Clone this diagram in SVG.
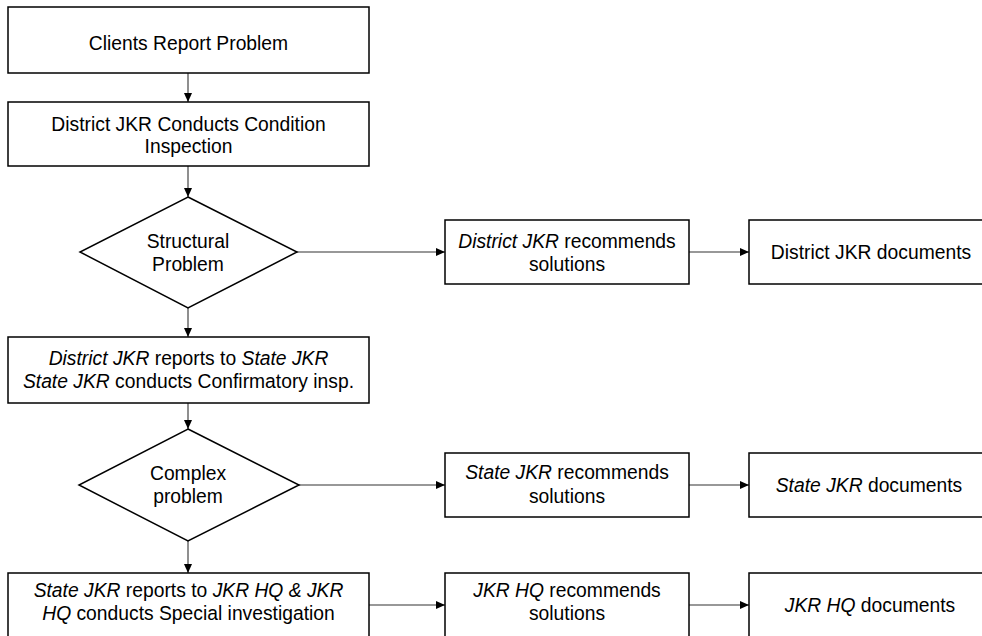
<svg xmlns="http://www.w3.org/2000/svg" width="982" height="636" viewBox="0 0 982 636">
<style>
.box{fill:#fff;stroke:#000;stroke-width:1.5}
.t{font-family:"Liberation Sans",Arial,sans-serif;font-size:19.3px;fill:#000;text-anchor:middle}
.i{font-style:italic}
.c{fill:none;stroke:#333;stroke-width:1.1}
</style>
<defs>
<marker id="ah" markerUnits="userSpaceOnUse" markerWidth="10" markerHeight="9" refX="9" refY="4" orient="auto">
<path d="M0,0 L9,4 L0,8 z" fill="#000"/>
</marker>
</defs>
<rect width="982" height="636" fill="#fff"/>
<g id="connectors">
<line class="c" x1="188" y1="73" x2="188" y2="102" marker-end="url(#ah)"/>
<line class="c" x1="188" y1="166" x2="188" y2="197" marker-end="url(#ah)"/>
<line class="c" x1="188" y1="308" x2="188" y2="337" marker-end="url(#ah)"/>
<line class="c" x1="188" y1="403" x2="188" y2="429" marker-end="url(#ah)"/>
<line class="c" x1="188" y1="541" x2="188" y2="573" marker-end="url(#ah)"/>
<line class="c" x1="297" y1="252" x2="445" y2="252" marker-end="url(#ah)"/>
<line class="c" x1="689" y1="252" x2="749" y2="252" marker-end="url(#ah)"/>
<line class="c" x1="299" y1="485" x2="445" y2="485" marker-end="url(#ah)"/>
<line class="c" x1="689" y1="485" x2="749" y2="485" marker-end="url(#ah)"/>
<line class="c" x1="369" y1="605" x2="445" y2="605" marker-end="url(#ah)"/>
<line class="c" x1="689" y1="605" x2="749" y2="605" marker-end="url(#ah)"/>
</g>
<g id="n1">
<rect class="box" x="8" y="7" width="361" height="66"/>
<text class="t" x="188.5" y="50">Clients Report Problem</text>
</g>
<g id="n2">
<rect class="box" x="8" y="102" width="361" height="64"/>
<text class="t" x="188.5" y="131">District JKR Conducts Condition</text>
<text class="t" x="188.5" y="153">Inspection</text>
</g>
<g id="d1">
<polygon class="box" points="188,197 297,252 188,308 80,252"/>
<text class="t" x="188" y="248">Structural</text>
<text class="t" x="188" y="271">Problem</text>
</g>
<g id="n3">
<rect class="box" x="445" y="220" width="244" height="64"/>
<text class="t" x="567" y="248"><tspan class="i">District JKR</tspan> recommends</text>
<text class="t" x="567" y="271">solutions</text>
</g>
<g id="n4">
<rect class="box" x="749" y="220" width="242" height="64"/>
<text class="t" x="871" y="259">District JKR documents</text>
</g>
<g id="n5">
<rect class="box" x="8" y="337" width="361" height="66"/>
<text class="t" x="188.5" y="365"><tspan class="i">District JKR</tspan> reports to <tspan class="i">State JKR</tspan></text>
<text class="t" x="188.5" y="388"><tspan class="i">State JKR</tspan> conducts Confirmatory insp.</text>
</g>
<g id="d2">
<polygon class="box" points="188,429 299,485 188,541 79,485"/>
<text class="t" x="188" y="480">Complex</text>
<text class="t" x="188" y="503">problem</text>
</g>
<g id="n6">
<rect class="box" x="445" y="453" width="244" height="64"/>
<text class="t" x="567" y="479"><tspan class="i">State JKR</tspan> recommends</text>
<text class="t" x="567" y="503">solutions</text>
</g>
<g id="n7">
<rect class="box" x="749" y="453" width="242" height="64"/>
<text class="t" x="869" y="492"><tspan class="i">State JKR</tspan> documents</text>
</g>
<g id="n8">
<rect class="box" x="8" y="573" width="361" height="80"/>
<text class="t" x="188.5" y="597"><tspan class="i">State JKR</tspan> reports to <tspan class="i">JKR HQ &amp; JKR</tspan></text>
<text class="t" x="188.5" y="620"><tspan class="i">HQ</tspan> conducts Special investigation</text>
</g>
<g id="n9">
<rect class="box" x="445" y="573" width="244" height="80"/>
<text class="t" x="567" y="597"><tspan class="i">JKR HQ</tspan> recommends</text>
<text class="t" x="567" y="620">solutions</text>
</g>
<g id="n10">
<rect class="box" x="749" y="573" width="242" height="80"/>
<text class="t" x="870" y="612"><tspan class="i">JKR HQ</tspan> documents</text>
</g>
</svg>
